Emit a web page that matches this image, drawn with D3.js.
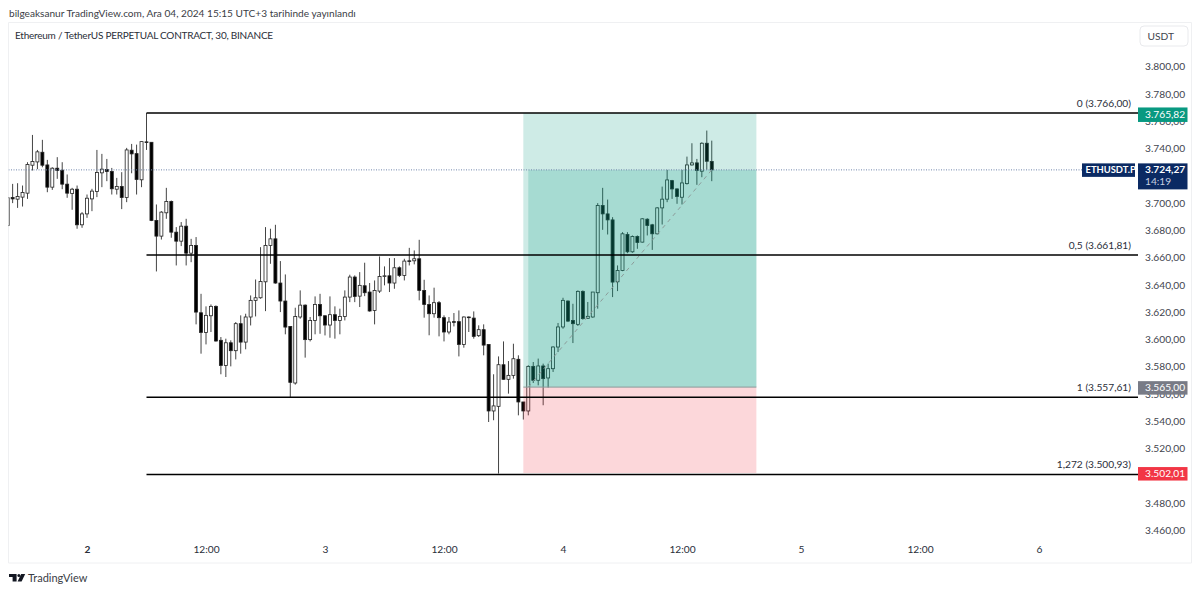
<!DOCTYPE html>
<html>
<head>
<meta charset="utf-8">
<script src="https://cdn.jsdelivr.net/npm/d3@7"></script>
<style>
html,body{margin:0;padding:0;background:#fff;overflow:hidden}
svg{display:block}
text{font-family:Lato,"Noto Sans",sans-serif}
</style>
</head>
<body>
<div id="chart"></div>
<script>
// 30 min bars, first one is Dec 1 16:00
const firstBar = Date.UTC(2024, 11, 1, 16, 0)
const barMs = 30 * 60 * 1000

const opens = [
 3683.5,3704.0,3702.8,3704.3,3707.2,3727.7,3730.1,3737.2,3727.9,3711.6,
 3725.5,3724.0,3713.8,3706.9,3710.1,3684.0,3692.0,3703.0,3708.4,3722.1,
 3724.5,3723.1,3710.1,3712.1,3704.0,3738.7,3736.2,3717.0,3744.8,3744.5,
 3687.2,3675.7,3692.8,3701.1,3678.6,3672.0,3683.0,3663.2,3668.9,3619.5,
 3605.1,3617.3,3624.2,3599.3,3580.9,3597.5,3591.7,3611.5,3598.0,3616.4,
 3628.6,3630.5,3642.2,3668.9,3673.7,3641.3,3628.1,3609.5,3568.0,3616.4,
 3625.1,3599.8,3613.9,3625.6,3617.3,3610.5,3618.1,3613.9,3616.8,3631.0,
 3645.7,3631.7,3639.3,3634.7,3621.2,3635.4,3646.1,3646.6,3641.3,3652.5,
 3646.9,3657.6,3657.6,3659.1,3635.9,3625.6,3618.8,3626.9,3615.9,3605.4,
 3613.0,3613.0,3596.3,3616.4,3615.6,3602.7,3607.1,3596.3,3547.5,3550.9,
 3581.4,3570.7,3573.6,3585.4,3554.1,3547.5,3580.2,3570.0,3580.5,3571.7,
 3578.5,3594.4,3609.1,3628.1,3613.9,3611.0,3635.2,3615.4,3616.4,3634.2,
 3698.1,3692.0,3687.6,3642.2,3650.5,3676.9,3664.2,3675.4,3671.3,3688.1,
 3684.0,3677.4,3696.4,3702.8,3716.4,3710.3,3704.2,3714.2,3727.9,3729.4,
 3723.3,3743.8,3730.4]
const highs = [
 3704.3,3714.0,3714.5,3712.8,3729.9,3749.9,3738.9,3746.3,3731.6,3726.2,
 3733.6,3729.9,3720.9,3711.1,3712.8,3693.3,3706.2,3710.4,3738.9,3736.0,
 3732.3,3725.7,3718.4,3722.6,3740.4,3743.3,3742.8,3745.0,3766.0,3744.5,
 3698.9,3694.0,3711.1,3701.8,3682.3,3686.0,3688.4,3673.7,3675.0,3633.4,
 3624.2,3625.6,3624.9,3601.7,3600.5,3599.3,3612.7,3617.6,3618.8,3632.2,
 3643.9,3667.6,3682.3,3681.1,3684.0,3657.4,3647.6,3609.5,3623.2,3635.9,
 3625.6,3616.4,3631.5,3633.4,3617.6,3631.5,3624.2,3622.5,3635.9,3647.4,
 3646.9,3649.3,3656.2,3641.3,3643.2,3660.8,3653.5,3659.6,3659.6,3653.5,
 3659.1,3667.1,3665.2,3673.0,3643.7,3632.2,3637.9,3628.1,3617.6,3616.4,
 3619.3,3621.2,3616.8,3616.8,3620.5,3610.3,3611.0,3596.3,3574.4,3587.5,
 3598.5,3584.1,3596.8,3588.3,3554.1,3581.0,3583.4,3585.9,3582.2,3582.2,
 3594.9,3612.0,3630.5,3628.6,3626.1,3635.9,3635.9,3627.4,3634.7,3699.9,
 3711.1,3702.5,3689.6,3654.2,3678.6,3678.6,3676.2,3676.2,3688.8,3688.8,
 3684.7,3696.9,3712.0,3724.3,3716.9,3710.8,3724.3,3734.0,3743.8,3732.3,
 3744.5,3753.1,3745.7]
const lows = [
 3682.8,3699.9,3696.4,3697.4,3703.0,3723.8,3724.8,3726.2,3707.9,3709.6,
 3717.7,3710.1,3703.8,3695.0,3681.1,3681.8,3689.1,3694.0,3704.3,3711.6,
 3716.0,3706.2,3706.2,3695.5,3700.6,3721.8,3706.2,3711.6,3738.9,3686.7,
 3649.8,3673.2,3688.4,3674.5,3654.2,3668.4,3654.2,3656.6,3611.0,3589.5,
 3596.3,3605.4,3598.3,3574.4,3572.4,3580.2,3585.3,3589.5,3592.7,3610.2,
 3616.8,3629.8,3620.7,3655.4,3640.8,3620.0,3603.7,3557.7,3566.8,3615.1,
 3586.6,3598.5,3603.7,3604.1,3602.9,3601.2,3600.5,3603.7,3613.9,3627.3,
 3627.3,3623.7,3631.7,3620.3,3611.0,3634.0,3639.6,3634.7,3637.1,3645.7,
 3643.2,3654.2,3655.0,3628.6,3615.9,3603.0,3615.9,3602.2,3598.5,3603.7,
 3609.5,3587.5,3593.9,3605.4,3600.5,3601.7,3588.3,3539.4,3540.7,3501.6,
 3570.4,3560.2,3571.2,3544.3,3541.2,3544.3,3568.0,3566.3,3551.7,3564.6,
 3576.1,3590.7,3607.8,3612.7,3597.3,3609.8,3614.4,3615.2,3615.9,3622.5,
 3680.3,3676.9,3631.0,3635.4,3650.0,3663.2,3663.5,3666.4,3671.0,3676.2,
 3665.6,3676.9,3684.2,3700.6,3703.0,3699.4,3698.9,3713.5,3727.4,3713.3,
 3718.9,3724.3,3716.0]
const closes = [
 3703.8,3703.0,3704.7,3707.7,3728.2,3730.4,3737.5,3727.7,3711.6,3725.5,
 3723.8,3713.8,3707.2,3710.1,3684.0,3692.0,3703.5,3708.7,3722.3,3724.8,
 3723.1,3710.4,3712.1,3704.0,3738.9,3736.0,3717.2,3745.0,3744.3,3687.2,
 3675.7,3693.3,3701.1,3678.6,3672.0,3683.0,3663.2,3668.9,3620.0,3605.1,
 3617.6,3624.2,3598.8,3580.9,3597.5,3591.7,3611.5,3598.0,3616.4,3628.6,
 3630.5,3642.5,3668.9,3673.7,3641.3,3628.1,3609.0,3568.5,3616.8,3625.1,
 3599.8,3613.9,3625.6,3617.3,3610.5,3618.1,3613.9,3616.8,3631.0,3645.7,
 3631.5,3639.6,3634.2,3620.8,3635.9,3646.1,3646.6,3641.3,3652.5,3646.9,
 3657.4,3657.1,3659.1,3635.9,3625.6,3618.8,3626.9,3615.9,3605.4,3612.7,
 3612.5,3596.3,3616.4,3615.9,3602.2,3607.1,3595.8,3547.5,3551.2,3581.4,
 3570.7,3573.6,3585.8,3554.1,3547.5,3580.2,3570.0,3580.5,3571.2,3578.5,
 3594.4,3609.1,3628.6,3613.4,3611.5,3635.2,3615.2,3616.9,3634.7,3698.1,
 3692.0,3687.6,3642.0,3650.5,3677.4,3664.2,3675.4,3671.0,3688.4,3683.5,
 3677.4,3696.4,3702.8,3716.9,3710.3,3704.7,3714.7,3727.9,3729.4,3723.8,
 3743.8,3730.6,3724.27]

// 3720 and 3500 are fully behind the price tags
const priceTicks = [3800,3780,3760,3740,3700,3680,3660,3640,3620,3600,3580,3560,3540,3520,3480,3460]
const timeTicks = [
  Date.UTC(2024,11,2,0), Date.UTC(2024,11,2,12), Date.UTC(2024,11,3,0), Date.UTC(2024,11,3,12),
  Date.UTC(2024,11,4,0), Date.UTC(2024,11,4,12), Date.UTC(2024,11,5,0), Date.UTC(2024,11,5,12),
  Date.UTC(2024,11,6,0)]
const timeLabels = ["2","12:00","3","12:00","4","12:00","5","12:00","6"]

const fibLevels = [3766.00, 3661.81, 3557.61, 3500.93]
const fibLabels = ["0 (3.766,00)", "0,5 (3.661,81)", "1 (3.557,61)", "1,272 (3.500,93)"]
const fibStart = Date.UTC(2024,11,2,6)

// long position tool
const entryPrice = 3565.00, targetPrice = 3765.82, stopPrice = 3502.01, lastPrice = 3724.27
const posStart = Date.UTC(2024,11,3,20), posEntryBar = Date.UTC(2024,11,3,20,30)
const posEnd = Date.UTC(2024,11,4,19,30), lastBar = Date.UTC(2024,11,4,15,0)

const width = 1200, height = 593
const pane = {left: 8.5, right: 1138, top: 22.5, bottom: 537, axisRight: 1191.5, axisBottom: 563}
const fs = 10.2

const x = d3.scaleUtc().domain([Date.UTC(2024,11,2), Date.UTC(2024,11,6)]).range([87, 1039])
const y = d3.scaleLinear().domain([3800, 3460]).range([66.6, 530.3])
const tr = d3.formatLocale({decimal: ",", thousands: ".", grouping: [3], currency: ["", ""]})
const fmt = tr.format(",.2f")

const bars = opens.map((o, i) => ({t: firstBar + i * barMs, o: o, h: highs[i], l: lows[i], c: closes[i]}))

const svg = d3.select("#chart").append("svg").attr("width", width).attr("height", height)

svg.append("defs").append("clipPath").attr("id", "paneClip").append("rect")
  .attr("x", pane.left).attr("y", pane.top)
  .attr("width", pane.right - pane.left).attr("height", pane.axisBottom - pane.top)

// pane frame
svg.append("path")
  .attr("d", `M${pane.left},${pane.top}H${pane.axisRight}V${pane.axisBottom}H${pane.left}Z`)
  .attr("fill", "none").attr("stroke", "#eff0f2")

svg.append("text").attr("x", 9).attr("y", 16.5).attr("font-size", 10.1).attr("fill", "#3a3d45")
  .text("bilgeaksanur TradingView.com, Ara 04, 2024 15:15 UTC+3 tarihinde yayınlandı")
svg.append("text").attr("x", 15).attr("y", 39).attr("font-size", 10).attr("letter-spacing", -0.24).attr("fill", "#2a2e39")
  .text("Ethereum / TetherUS PERPETUAL CONTRACT, 30, BINANCE")

const plot = svg.append("g").attr("clip-path", "url(#paneClip)")

// candles
const bw = 3
const candle = plot.append("g").selectAll("g").data(bars).join("g")
candle.append("line")
  .attr("x1", d => x(d.t)).attr("x2", d => x(d.t))
  .attr("y1", d => y(d.h)).attr("y2", d => y(d.l))
  .attr("stroke", "#444").attr("stroke-width", 1)
candle.append("rect")
  .attr("x", d => x(d.t) - bw / 2)
  .attr("y", d => y(Math.max(d.o, d.c)))
  .attr("width", bw)
  .attr("height", d => Math.max(0.6, Math.abs(y(d.o) - y(d.c))))
  .attr("fill", d => d.c >= d.o ? "#fff" : "#000")
  .attr("stroke", "#222").attr("stroke-width", 0.8)

// position boxes, they sit over the candles
const teal = "rgba(8,153,129,0.2)", red = "rgba(242,54,69,0.2)"
plot.append("rect").attr("x", x(posStart)).attr("width", x(posEnd) - x(posStart))
  .attr("y", y(targetPrice)).attr("height", y(entryPrice) - y(targetPrice)).attr("fill", teal)
plot.append("rect").attr("x", x(posEntryBar)).attr("width", x(posEnd) - x(posEntryBar))
  .attr("y", y(lastPrice)).attr("height", y(entryPrice) - y(lastPrice)).attr("fill", teal)
plot.append("rect").attr("x", x(posStart)).attr("width", x(posEnd) - x(posStart))
  .attr("y", y(entryPrice)).attr("height", y(stopPrice) - y(entryPrice)).attr("fill", red)
plot.append("line").attr("x1", x(posStart)).attr("x2", x(posEnd))
  .attr("y1", y(entryPrice)).attr("y2", y(entryPrice)).attr("stroke", "#8d9a9a").attr("stroke-width", 1)
plot.append("line").attr("x1", x(posEntryBar)).attr("x2", x(lastBar))
  .attr("y1", y(entryPrice)).attr("y2", y(lastPrice))
  .attr("stroke", "#8c9c9a").attr("stroke-width", 1).attr("stroke-dasharray", "4 4")

// last price line
plot.append("line").attr("x1", pane.left).attr("x2", 1082)
  .attr("y1", y(lastPrice)).attr("y2", y(lastPrice))
  .attr("stroke", "#6f84ab").attr("stroke-width", 1).attr("stroke-dasharray", "1 1.5")

// fib levels
const fib = plot.append("g").selectAll("g").data(fibLevels).join("g")
fib.append("line").attr("x1", x(fibStart)).attr("x2", pane.right)
  .attr("y1", d => y(d)).attr("y2", d => y(d))
  .attr("stroke", "#000").attr("stroke-width", 1.5)
fib.append("text").attr("x", 1131).attr("y", d => y(d) - 6)
  .attr("text-anchor", "end").attr("font-size", fs).attr("fill", "#2a2e39")
  .text((d, i) => fibLabels[i])

// price axis
const yAxis = svg.append("g").attr("transform", `translate(${pane.right},0)`)
  .call(d3.axisRight(y).tickValues(priceTicks).tickSize(0).tickPadding(7).tickFormat(fmt))
yAxis.select(".domain").remove()
yAxis.selectAll("text").attr("font-size", fs).attr("fill", "#42454e")
  .style("font-family", 'Lato,"Noto Sans",sans-serif')

// time axis
const xAxis = svg.append("g").attr("transform", `translate(0,${pane.bottom + 9})`)
  .call(d3.axisBottom(x).tickValues(timeTicks).tickSize(0).tickPadding(0).tickFormat((d, i) => timeLabels[i]))
xAxis.select(".domain").remove()
xAxis.selectAll("text").attr("font-size", fs).attr("fill", "#2a2e39")
  .style("font-family", 'Lato,"Noto Sans",sans-serif')
  .attr("font-weight", (d, i) => i === 0 ? 700 : 400)

// USDT button
svg.append("rect").attr("x", 1140).attr("y", 26).attr("width", 48).attr("height", 20).attr("rx", 4)
  .attr("fill", "#fff").attr("stroke", "#e9eaed")
svg.append("text").attr("x", 1147.5).attr("y", 40).attr("font-size", fs).attr("fill", "#42454e").text("USDT")

// price tags on the axis
const tags = [
  {p: targetPrice, bg: "#089981", dy: 1.5, h: 14.5},
  {p: entryPrice, bg: "#787b86", dy: 0.8, h: 13.5},
  {p: stopPrice, bg: "#f23645", dy: 0.8, h: 13.5}]
tags.forEach(t => {
  const cy = y(t.p) + t.dy
  svg.append("rect").attr("x", 1138).attr("y", cy - t.h / 2).attr("width", 49.5).attr("height", t.h).attr("fill", t.bg)
  svg.append("text").attr("x", 1145).attr("y", cy + 3.6).attr("font-size", fs).attr("fill", "#fff").text(fmt(t.p))
})
const navy = "#0b2a63"
svg.append("rect").attr("x", 1138).attr("y", y(lastPrice) - 6.5).attr("width", 49.5).attr("height", 26).attr("fill", navy)
svg.append("text").attr("x", 1145).attr("y", y(lastPrice) + 3.6).attr("font-size", fs).attr("font-weight", 700).attr("fill", "#fff").text(fmt(lastPrice))
svg.append("text").attr("x", 1145).attr("y", y(lastPrice) + 15.5).attr("font-size", fs).attr("fill", "#c8d0e0").text("14:19")
svg.append("rect").attr("x", 1082).attr("y", y(lastPrice) - 6.5).attr("width", 53).attr("height", 13.5).attr("fill", navy)
svg.append("text").attr("x", 1085.5).attr("y", y(lastPrice) + 3.4).attr("font-size", 9.4).attr("font-weight", 700).attr("fill", "#fff").text("ETHUSDT.P")

// logo
const logo = svg.append("g").attr("transform", "translate(9,574)").attr("fill", "#131722")
logo.append("path").attr("d", "M0,0H7.6V7.6H3.6V3H0Z")
logo.append("circle").attr("cx", 9.9).attr("cy", 1.5).attr("r", 1.5)
logo.append("path").attr("d", "M12.2,0H16.2L12.6,7.6H8.6Z")
svg.append("text").attr("x", 28).attr("y", 582).attr("font-size", 11).attr("fill", "#3a3d45").text("TradingView")
</script>
</body>
</html>
